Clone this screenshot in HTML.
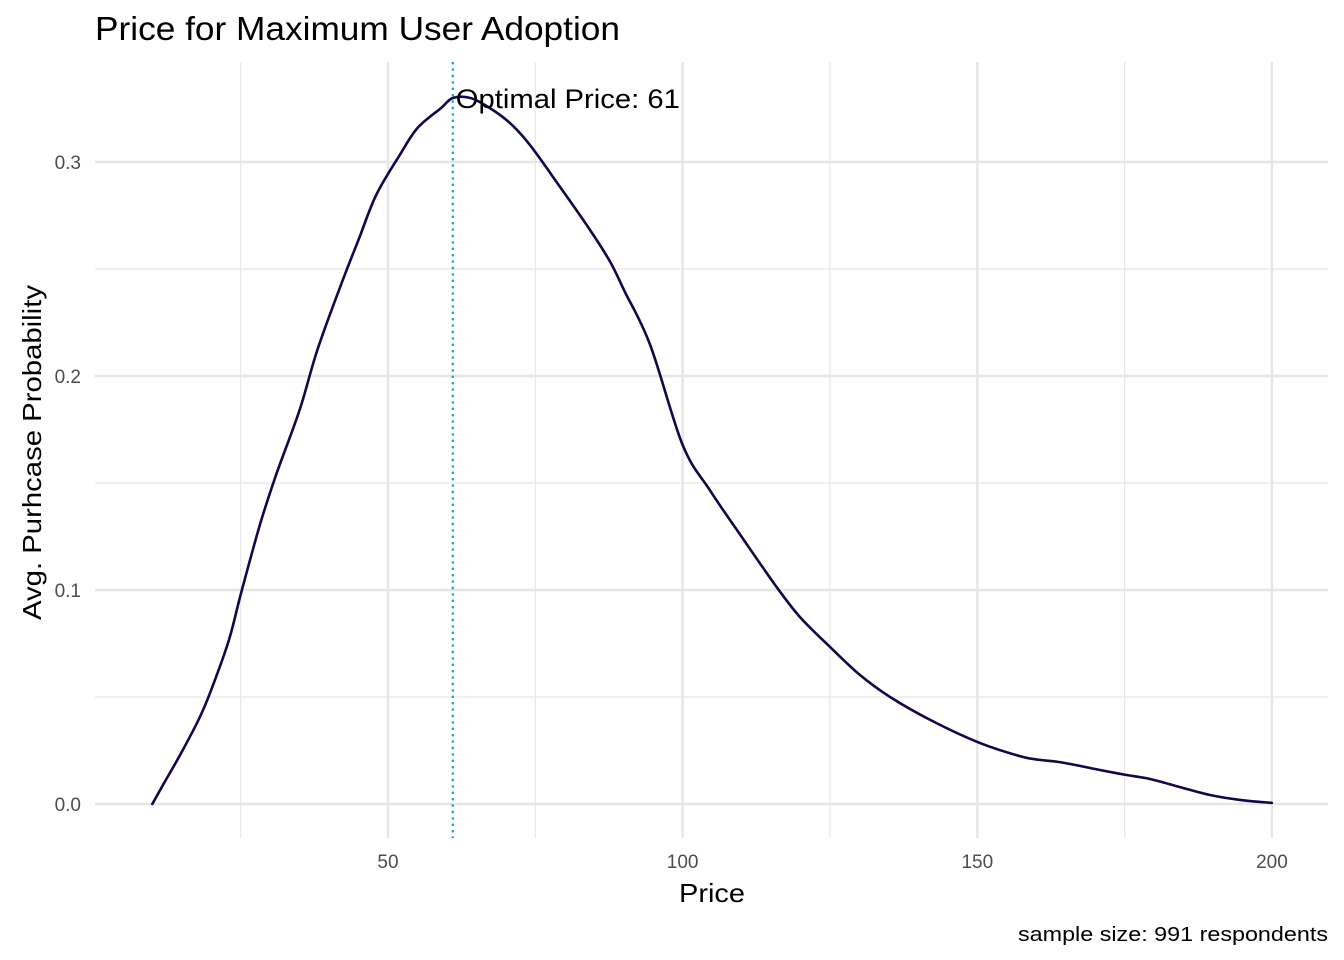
<!DOCTYPE html>
<html><head><meta charset="utf-8"><style>
html,body{margin:0;padding:0;background:#fff;}
svg{display:block;font-family:"Liberation Sans",Arial,sans-serif;}
</style></head><body>
<svg id="chart" width="1344" height="960" viewBox="0 0 1344 960">
<text x="95" y="40" font-size="33" textLength="525" lengthAdjust="spacingAndGlyphs" fill="#000">Price for Maximum User Adoption</text>
<g id="grid"></g>
<g id="ticks"></g>
<g id="marks"></g>
<text x="679" y="902" font-size="26" textLength="66" lengthAdjust="spacingAndGlyphs" fill="#000">Price</text>
<text transform="translate(41,620) rotate(-90)" font-size="26" textLength="335" lengthAdjust="spacingAndGlyphs" fill="#000">Avg. Purhcase Probability</text>
<text x="1018" y="941" font-size="20" textLength="310" lengthAdjust="spacingAndGlyphs" fill="#000">sample size: 991 respondents</text>
</svg>
<script>
const prices=[10,12,15,18,20,23,25.2,28.3,31,35,38,42,45,48,52,55,59,61,64,67.3,70.7,74.1,79.2,84.3,87.7,90.2,94.5,100,104.6,109.8,115.7,119.9,125,130.1,135.2,142,150,157.2,160.6,164,170.8,175.2,179.3,184.4,189.5,194.6,200];
const probs=[0,0.0098,0.0243,0.0402,0.0533,0.0766,0.1,0.1308,0.1537,0.1841,0.2121,0.2425,0.2636,0.2846,0.3033,0.3159,0.3252,0.3299,0.3299,0.3252,0.3182,0.3079,0.2883,0.2682,0.2533,0.2393,0.2145,0.1678,0.1467,0.1257,0.1023,0.0874,0.0734,0.0603,0.05,0.0393,0.029,0.0224,0.0206,0.0196,0.0159,0.0136,0.0117,0.0079,0.0042,0.0019,0.0005];
const xTicks=[50,100,150,200];
const xMinor=[25,75,125,175];
const yTicks=[0,0.1,0.2,0.3];
const yMinor=[0.05,0.15,0.25];
const optimalPrice=61;
const NS="http://www.w3.org/2000/svg";
const X=v=>388+(v-50)*5.893;
const Y=v=>804-v*2140;
const L=95,R=1328,T=62,B=838;
function mk(tag,attrs,parent){const e=document.createElementNS(NS,tag);for(const k in attrs)e.setAttribute(k,attrs[k]);parent.appendChild(e);return e;}
const grid=document.getElementById('grid'),ticks=document.getElementById('ticks'),marks=document.getElementById('marks');
xMinor.forEach(v=>{const l=mk('line',{x1:X(v),x2:X(v),y1:T,y2:B,stroke:'#e8e8e8','stroke-width':1.2},grid);

});
yMinor.forEach(v=>{const l=mk('line',{x1:L,x2:R,y1:Y(v),y2:Y(v),stroke:'#e8e8e8','stroke-width':1.2},grid);

});
xTicks.forEach(v=>{const l=mk('line',{x1:X(v),x2:X(v),y1:T,y2:B,stroke:'#e6e6e6','stroke-width':2.4},grid);


const t=mk('text',{x:X(v),y:868,'font-size':19,fill:'#4d4d4d','text-anchor':'middle'},ticks);t.textContent=v;

});
yTicks.forEach(v=>{const l=mk('line',{x1:L,x2:R,y1:Y(v),y2:Y(v),stroke:'#e6e6e6','stroke-width':2.4},grid);


const t=mk('text',{x:81,y:Y(v)+7,'font-size':19,fill:'#4d4d4d','text-anchor':'end'},ticks);t.textContent=v.toFixed(1);

});
const vl=mk('line',{x1:X(optimalPrice),x2:X(optimalPrice),y1:T,y2:B,stroke:'#1ba6ea','stroke-width':2.4,'stroke-dasharray':'2.4 4'},marks);


const pts=prices.map((p,i)=>[X(p),Y(probs[i])]);
let d='M'+pts[0][0].toFixed(1)+','+pts[0][1].toFixed(1);
for(let i=0;i<pts.length-1;i++){const p0=pts[Math.max(0,i-1)],p1=pts[i],p2=pts[i+1],p3=pts[Math.min(pts.length-1,i+2)];
const c1=[p1[0]+(p2[0]-p0[0])/6,p1[1]+(p2[1]-p0[1])/6],c2=[p2[0]-(p3[0]-p1[0])/6,p2[1]-(p3[1]-p1[1])/6];
d+=' C'+c1.map(n=>n.toFixed(1)).join(',')+' '+c2.map(n=>n.toFixed(1)).join(',')+' '+p2.map(n=>n.toFixed(1)).join(',');}
const path=mk('path',{d:d,fill:'none',stroke:'#0c0a4a','stroke-width':2.6,'stroke-linejoin':'round','stroke-linecap':'round'},marks);


const lab=mk('text',{x:X(optimalPrice)+3,y:108,'font-size':27,textLength:224,lengthAdjust:'spacingAndGlyphs',fill:'#000'},marks);lab.textContent='Optimal Price: '+optimalPrice;


</script>
</body></html>
